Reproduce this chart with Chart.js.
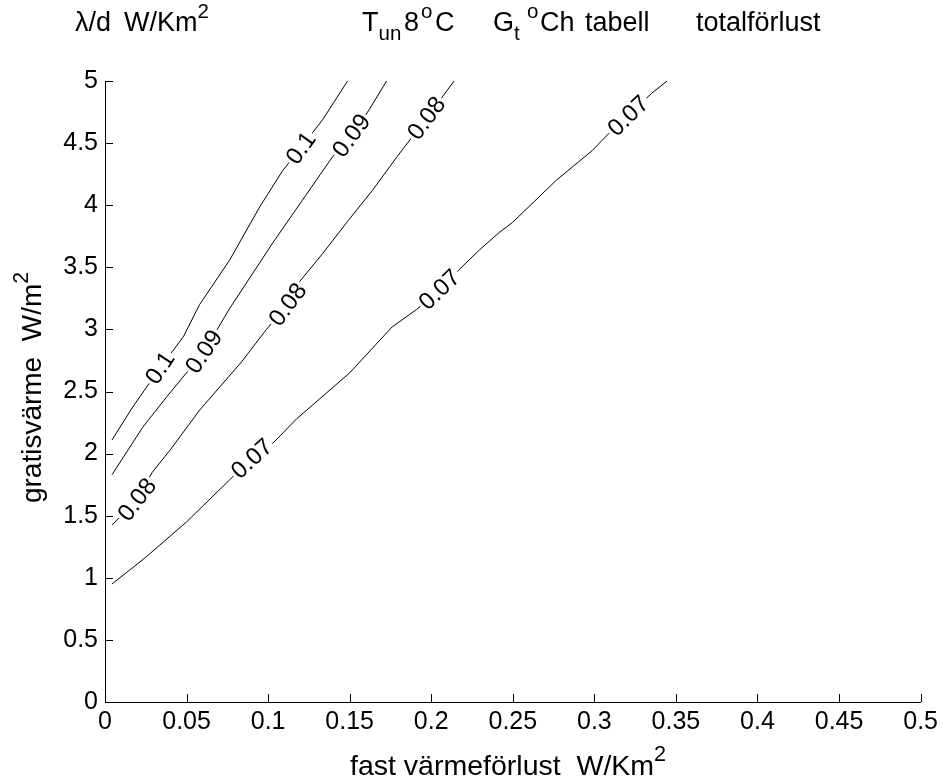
<!DOCTYPE html>
<html>
<head>
<meta charset="utf-8">
<script src="https://cdn.jsdelivr.net/npm/chart.js@4.4.1/dist/chart.umd.min.js"></script>
<style>
  html, body { margin: 0; padding: 0; background: #ffffff; }
  canvas { display: block; }
</style>
</head>
<body>
<canvas id="chart" width="943" height="782"></canvas>
<script>
// Axis ticks
const xTickValues = [0, 0.05, 0.1, 0.15, 0.2, 0.25, 0.3, 0.35, 0.4, 0.45, 0.5];
const xTickLabels = ['0', '0.05', '0.1', '0.15', '0.2', '0.25', '0.3', '0.35', '0.4', '0.45', '0.5'];
const yTickValues = [0, 0.5, 1, 1.5, 2, 2.5, 3, 3.5, 4, 4.5, 5];
const yTickLabels = ['0', '0.5', '1', '1.5', '2', '2.5', '3', '3.5', '4', '4.5', '5'];

// Contour levels (total loss)
const levelLabels = ['0.1', '0.09', '0.08', '0.07'];

// Contour 0.1
const x010 = [0.0043, 0.017, 0.0337, 0.048, 0.058, 0.0765, 0.095, 0.109, 0.120, 0.1335, 0.1487];
const y010 = [2.11, 2.375, 2.69, 2.94, 3.20, 3.56, 3.99, 4.28, 4.46, 4.69, 5.0];
// Contour 0.09
const x009 = [0.0043, 0.023, 0.038, 0.0606, 0.0765, 0.103, 0.121, 0.1395, 0.151, 0.162, 0.1726];
const y009 = [1.83, 2.21, 2.46, 2.82, 3.17, 3.70, 4.04, 4.39, 4.56, 4.77, 5.0];
// Contour 0.08
const x008 = [0.0043, 0.0196, 0.029, 0.04, 0.058, 0.0838, 0.099, 0.112, 0.119, 0.1334, 0.1487, 0.164, 0.179, 0.193, 0.197, 0.214];
const y008 = [1.425, 1.63, 1.85, 2.03, 2.35, 2.74, 3.0, 3.20, 3.38, 3.61, 3.87, 4.12, 4.39, 4.63, 4.70, 5.0];
// Contour 0.07
const x007 = [0.0043, 0.0245, 0.050, 0.0765, 0.090, 0.103, 0.1175, 0.150, 0.176, 0.191, 0.205, 0.217, 0.2295, 0.2417, 0.2497, 0.2766, 0.2987, 0.309, 0.3207, 0.335, 0.3446];
const y007 = [0.95, 1.16, 1.45, 1.79, 1.96, 2.085, 2.28, 2.65, 3.02, 3.16, 3.32, 3.48, 3.64, 3.78, 3.86, 4.20, 4.44, 4.58, 4.72, 4.90, 5.0];

// Inline label anchors for each contour
const labelX010 = [0.0337, 0.120];
const labelY010 = [2.69, 4.46];
const labelX009 = [0.0606, 0.151];
const labelY009 = [2.82, 4.56];
const labelX008 = [0.0196, 0.112, 0.197];
const labelY008 = [1.63, 3.20, 4.70];
const labelX007 = [0.090, 0.205, 0.3207];
const labelY007 = [1.96, 3.32, 4.72];

const FONT = '"Liberation Sans", Arial, Helvetica, sans-serif';

function toPoints(xs, ys) { return xs.map((x, i) => ({ x: x, y: ys[i] })); }

const contours = [
  { label: levelLabels[0], xs: x010, ys: y010, lx: labelX010, ly: labelY010 },
  { label: levelLabels[1], xs: x009, ys: y009, lx: labelX009, ly: labelY009 },
  { label: levelLabels[2], xs: x008, ys: y008, lx: labelX008, ly: labelY008 },
  { label: levelLabels[3], xs: x007, ys: y007, lx: labelX007, ly: labelY007 }
];

// Rich text helpers (superscript / subscript pieces)
function partFont(p, size) {
  const fs = (p.sup || p.sub) ? size * 0.76 : size;
  return fs + 'px ' + FONT;
}
function richWidth(ctx, parts, size) {
  let w = 0;
  for (const p of parts) { ctx.font = partFont(p, size); w += ctx.measureText(p.t).width; }
  return w;
}
function drawRich(ctx, parts, x, y, size) {
  let cx = x;
  ctx.textAlign = 'left';
  ctx.textBaseline = 'alphabetic';
  for (const p of parts) {
    ctx.font = partFont(p, size);
    const dy = p.sup ? -size * 0.48 : (p.sub ? size * 0.34 : 0);
    const px = (p.x !== undefined) ? p.x : cx;
    ctx.fillText(p.t, px, y + dy);
    cx = px + ctx.measureText(p.t).width;
  }
}

// Header line: pieces with their left edges
const titleParts = [
  { t: 'λ/d', x: 75 }, { t: 'W/Km', x: 124 }, { t: '2', sup: true },
  { t: 'T', x: 362 }, { t: 'un', sub: true }, { t: '8', x: 404 }, { t: 'o', sup: true, x: 421 }, { t: 'C', x: 435 },
  { t: 'G', x: 493 }, { t: 't', sub: true }, { t: 'o', sup: true, x: 527 }, { t: 'Ch', x: 540 },
  { t: 'tabell', x: 585 }, { t: 'totalförlust', x: 696 }
];
const xTitle = [{ t: 'fast värmeförlust  W/Km' }, { t: '2', sup: true }];
const yTitle = [{ t: 'gratisvärme  W/m' }, { t: '2', sup: true }];

const decorPlugin = {
  id: 'decor',
  afterDatasetsDraw(chart) {
    const ctx = chart.ctx;
    const xs = chart.scales.x, ys = chart.scales.y;
    // Inline contour labels, breaking the line underneath
    ctx.save();
    ctx.font = '24px ' + FONT;
    contours.forEach((c) => {
      const px = c.xs.map(v => xs.getPixelForValue(v));
      const py = c.ys.map(v => ys.getPixelForValue(v));
      c.lx.forEach((lxv, k) => {
        const cx = xs.getPixelForValue(lxv);
        const cy = ys.getPixelForValue(c.ly[k]);
        let best = 0, bd = Infinity;
        for (let i = 0; i < px.length - 1; i++) {
          const mx = (px[i] + px[i + 1]) / 2, my = (py[i] + py[i + 1]) / 2;
          const d = (mx - cx) ** 2 + (my - cy) ** 2;
          if (d < bd) { bd = d; best = i; }
        }
        const i0 = Math.max(0, best - 1), i1 = Math.min(px.length - 1, best + 2);
        const ang = Math.atan2(py[i1] - py[i0], px[i1] - px[i0]);
        const w = ctx.measureText(c.label).width;
        ctx.save();
        ctx.translate(cx, cy);
        ctx.rotate(ang);
        ctx.fillStyle = '#ffffff';
        ctx.fillRect(-w / 2 - 2, -8, w + 4, 16);
        ctx.fillStyle = '#000000';
        ctx.textAlign = 'center';
        ctx.textBaseline = 'middle';
        ctx.fillText(c.label, 0, 1);
        ctx.restore();
      });
    });
    ctx.restore();
  },
  afterDraw(chart) {
    const ctx = chart.ctx;
    const xs = chart.scales.x, ys = chart.scales.y;
    const a = chart.chartArea;
    ctx.save();
    // inward tick marks
    ctx.strokeStyle = '#000000';
    ctx.lineWidth = 1;
    ctx.beginPath();
    xTickValues.forEach(v => {
      const p = Math.round(xs.getPixelForValue(v)) + 0.5;
      ctx.moveTo(p, a.bottom); ctx.lineTo(p, a.bottom - 8);
    });
    yTickValues.forEach(v => {
      const p = Math.round(ys.getPixelForValue(v)) + 0.5;
      ctx.moveTo(a.left, p); ctx.lineTo(a.left + 8, p);
    });
    ctx.stroke();
    ctx.fillStyle = '#000000';
    // header and axis titles
    drawRich(ctx, titleParts, 75, 31, 27);
    drawRich(ctx, xTitle, 350, 775, 28.5);
    const yw = richWidth(ctx, yTitle, 28);
    ctx.translate(41, (a.top + a.bottom) / 2 - 4);
    ctx.rotate(-Math.PI / 2);
    drawRich(ctx, yTitle, -yw / 2, 0, 28);
    ctx.restore();
  }
};

new Chart(document.getElementById('chart'), {
  type: 'line',
  data: {
    datasets: contours.map(c => ({
      label: c.label,
      data: toPoints(c.xs, c.ys),
      borderColor: '#000000',
      borderWidth: 1,
      pointRadius: 0,
      tension: 0,
      fill: false
    }))
  },
  options: {
    responsive: false,
    animation: false,
    devicePixelRatio: 1,
    layout: { padding: { top: 81, right: 21, left: 0, bottom: 0 } },
    plugins: { legend: { display: false }, tooltip: { enabled: false }, title: { display: false } },
    scales: {
      x: {
        type: 'linear',
        min: 0, max: 0.5,
        afterBuildTicks: s => { s.ticks = xTickValues.map(v => ({ value: v })); },
        afterFit: s => { s.height = 80; },
        grid: { display: false, drawTicks: false },
        border: { display: true, color: '#000000', width: 1 },
        ticks: {
          color: '#000000',
          font: { family: FONT, size: 25 },
          padding: 5,
          maxRotation: 0,
          autoSkip: false,
          callback: (v, i) => xTickLabels[i]
        }
      },
      y: {
        type: 'linear',
        min: 0, max: 5,
        afterBuildTicks: s => { s.ticks = yTickValues.map(v => ({ value: v })); },
        afterFit: s => { s.width = 105; },
        grid: { display: false, drawTicks: false },
        border: { display: true, color: '#000000', width: 1 },
        ticks: {
          color: '#000000',
          font: { family: FONT, size: 25 },
          padding: 7,
          autoSkip: false,
          callback: (v, i) => yTickLabels[i]
        }
      }
    }
  },
  plugins: [decorPlugin]
});
</script>
</body>
</html>
